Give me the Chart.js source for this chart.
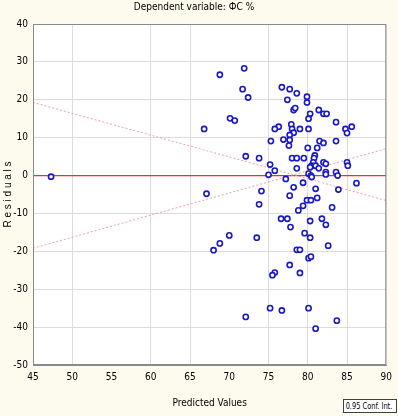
<!DOCTYPE html>
<html>
<head>
<meta charset="utf-8">
<script src="https://cdn.jsdelivr.net/npm/chart.js@4"></script>
<style>
  html, body { margin: 0; padding: 0; background: #fdfaee; }
  #wrap { position: relative; width: 398px; height: 416px; }
  #legendBox {
    position: absolute; left: 343px; top: 399px; width: 54px; height: 14px;
    border: 1px solid #404040; background: #ffffff; box-sizing: border-box;
    font: 9px "Liberation Sans Narrow", "DejaVu Sans Condensed", Arial, sans-serif; color: #000;
    line-height: 12px; white-space: nowrap; overflow: hidden;
  }
  #legendBox span { display: inline-block; transform: scaleX(0.82); transform-origin: 0 50%; padding-left: 2px; }
</style>
</head>
<body>
<div id="wrap">
  <canvas id="residChart" width="398" height="416"></canvas>
  <div id="legendBox"><span>0.95 Conf. Int.</span></div>
</div>
<script>
// predicted values (x) and residuals (y)
const predicted = [
  47.3, 66.8, 68.8, 71.9, 71.7, 72.4, 70.1, 70.7, 76.7, 77.7,
  78.6, 77.4, 79.9, 79.9, 78.2, 78.4, 80.3, 80.1, 81.4, 82.0,
  82.4, 83.6, 84.8, 85.0, 85.6, 77.9, 78.0, 76.3, 75.8, 78.2,
  79.0, 80.1, 77.7, 76.9, 77.7, 75.3, 77.6, 81.5, 82.0, 83.6,
  80.0, 81.2, 72.1, 73.8, 78.0, 78.6, 79.5, 80.9, 80.8, 80.7,
  80.5, 80.3, 81.0, 81.4, 82.0, 82.3, 75.2, 75.8, 78.6, 82.3,
  82.3, 83.6, 83.8, 85.0, 85.1, 80.1, 80.4, 80.5, 75.0, 77.2,
  79.4, 78.2, 81.0, 83.9, 86.2, 74.1, 67.1, 77.7, 79.9, 80.4,
  81.2, 73.8, 79.4, 83.1, 78.8, 76.6, 77.4, 77.8, 80.3, 81.8,
  82.3, 79.6, 70.0, 68.8, 68.0, 73.5, 80.3, 82.6, 78.6, 79.0,
  80.1, 80.4, 77.7, 79.0, 75.8, 75.5, 75.2, 76.7, 72.1, 80.1,
  83.7, 81.0
];
const residuals = [
  -0.3, 12.3, 26.6, 28.3, 22.8, 20.6, 15.1, 14.5, 23.3, 22.8,
  21.7, 20.0, 20.8, 19.3, 17.3, 17.8, 16.3, 15.0, 17.3, 16.3,
  16.3, 14.1, 12.3, 11.2, 12.9, 13.5, 12.3, 12.9, 12.3, 11.3,
  12.3, 12.3, 10.7, 9.5, 9.4, 9.1, 7.9, 9.1, 8.6, 9.1,
  7.3, 7.3, 5.1, 4.6, 4.6, 4.6, 4.6, 5.3, 4.6, 3.5,
  2.6, 2.2, 2.6, 1.9, 3.5, 3.1, 2.9, 1.3, 1.9, 0.9,
  0.3, 0.9, 0.0, 3.5, 2.6, 0.5, 0.0, -0.4, 0.2, -0.9,
  -1.9, -3.1, -3.5, -3.7, -2.0, -4.1, -4.8, -5.3, -6.5, -6.5,
  -5.9, -7.6, -8.0, -8.4, -9.2, -11.4, -11.4, -13.6, -12.0, -11.4,
  -13.0, -15.2, -15.8, -17.9, -19.7, -16.4, -16.4, -18.5, -19.6, -19.6,
  -21.8, -21.4, -23.6, -25.7, -25.6, -26.3, -35.0, -35.6, -37.3, -35.0,
  -38.3, -40.4
];

// 0.95 conf. lines, ends at x = 45 and x = 90
const confX = [45, 90];
const confUpper = [19.3, -6.6];
const confLower = [-19.2, 7.1];

const xTicks = [45, 50, 55, 60, 65, 70, 75, 80, 85, 90];
const yTicks = [40, 30, 20, 10, 0, -10, -20, -30, -40, -50];

const plotBg = {
  id: "plotBg",
  beforeDraw(chart) {
    const { ctx, chartArea: a } = chart;
    ctx.save();
    ctx.fillStyle = "#ffffff";
    ctx.fillRect(a.left, a.top, a.right - a.left, a.bottom - a.top);
    ctx.restore();
  },
  afterDraw(chart) {
    const { ctx, chartArea: a } = chart;
    ctx.save();
    ctx.strokeStyle = "#8a8a8a";
    ctx.lineWidth = 1;
    ctx.strokeRect(a.left + 0.5, a.top + 0.5, a.right - a.left - 1, a.bottom - a.top - 1);
    ctx.restore();
  }
};

const fam = "'Liberation Sans Narrow', 'DejaVu Sans Condensed', Arial, sans-serif";
const font = { family: fam, size: 10 };

new Chart(document.getElementById("residChart").getContext("2d"), {
  type: "scatter",
  data: {
    datasets: [
      {
        label: "zero",
        type: "line",
        data: confX.map((x) => ({ x: x, y: 0 })),
        borderColor: "rgb(255, 40, 40)",
        borderWidth: 1.2,
        pointRadius: 0,
        order: 3
      },
      {
        label: "upper",
        type: "line",
        data: confX.map((x, i) => ({ x: x, y: confUpper[i] })),
        borderColor: "#eaa0a8",
        borderWidth: 1,
        borderDash: [2, 2],
        pointRadius: 0,
        order: 2
      },
      {
        label: "lower",
        type: "line",
        data: confX.map((x, i) => ({ x: x, y: confLower[i] })),
        borderColor: "#eaa0a8",
        borderWidth: 1,
        borderDash: [2, 2],
        pointRadius: 0,
        order: 2
      },
      {
        label: "residuals",
        data: predicted.map((x, i) => ({ x: x, y: residuals[i] })),
        borderColor: "#1818c8",
        backgroundColor: "#ffffff",
        pointRadius: 2.6,
        borderWidth: 1.6,
        order: 1
      }
    ]
  },
  options: {
    responsive: false,
    animation: false,
    layout: { padding: { top: 0, right: 10, bottom: 0, left: 0 } },
    plugins: {
      legend: { display: false },
      tooltip: { enabled: false },
      title: {
        display: true,
        text: "Dependent variable: ФС %",
        color: "#000",
        font: { family: fam, size: 10, weight: "normal" },
        padding: { top: 1, bottom: 11 }
      }
    },
    scales: {
      x: {
        type: "linear",
        min: 45,
        max: 90,
        afterBuildTicks: (s) => { s.ticks = xTicks.map((v) => ({ value: v })); },
        afterFit: (s) => { s.height = 51; },
        grid: {
          color: (c) => (c.tick && (c.tick.value === 55 || c.tick.value === 70)) ? "rgba(0,0,0,0)" : "#dcdcdc",
          drawTicks: false
        },
        border: { color: "#8a8a8a" },
        ticks: { color: "#000", font: font, padding: 6, maxRotation: 0 },
        title: {
          display: true,
          text: "Predicted Values",
          color: "#000",
          font: font,
          padding: { top: 4, bottom: 7 }
        }
      },
      y: {
        min: -50,
        max: 40,
        afterBuildTicks: (s) => { s.ticks = yTicks.map((v) => ({ value: v })); },
        afterFit: (s) => { s.width = 33; },
        grid: {
          color: (c) => (c.tick && c.tick.value === 0) ? "rgba(0,0,0,0)" : "#dcdcdc",
          drawTicks: false
        },
        border: { color: "#8a8a8a" },
        ticks: { color: "#000", font: font, padding: 5 },
        title: {
          display: true,
          text: "R e s i d u a l s",
          color: "#000",
          font: { family: "'Liberation Sans', Arial, sans-serif", size: 10 },
          padding: { top: 2, bottom: 0 }
        }
      }
    }
  },
  plugins: [plotBg]
});
</script>
</body>
</html>
